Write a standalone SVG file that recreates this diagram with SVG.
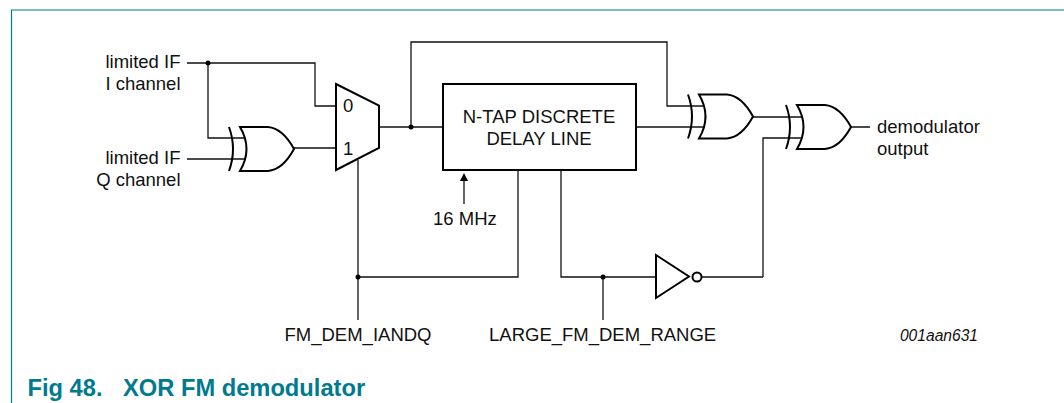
<svg xmlns="http://www.w3.org/2000/svg" width="1064" height="403" viewBox="0 0 1064 403">
<style>
text{font-family:"Liberation Sans",Arial,sans-serif;font-size:18.5px;fill:#111}
.w{fill:none;stroke:#111;stroke-width:1.3}
.g{fill:#fff;stroke:#000;stroke-width:2;stroke-linejoin:miter}
.a{fill:none;stroke:#000;stroke-width:2}
.d{fill:#000}
.t{font-weight:bold;font-size:23.7px;fill:#007a8e}
</style>
<defs>
<g id="xor">
<path class="a" d="M-11 0Q-3 22 -11 44"/>
<path class="g" d="M0 0H28C39 1 48 11 54 22C48 33 39 43 28 44H0Q13 22 0 0Z"/>
</g>
</defs>
<rect width="1064" height="403" fill="#fff"/>
<path id="frame" d="M11.500 403V10H1064" fill="none" stroke="#007a8e" stroke-width="1.200"/>
<g id="connectors">
<path class="w" d="M187 63H315V106H336M208 63V138H245M187 159H245M294 148H336M379 127H443M411 127V42H667V106H703M636 127H703M753 117H802M763 277V138H802M851 127H870M358 160V320M358 277H518V170M561 170V277H656M603 277V320M702 277H763"/>
<circle class="d" cx="208" cy="63" r="2.500"/>
<circle class="d" cx="411" cy="127" r="2.500"/>
<circle class="d" cx="358" cy="277" r="2.500"/>
<circle class="d" cx="603" cy="277" r="2.500"/>
<path class="w" d="M464 204V178"/>
<path class="d" d="M464 173L468 181H460Z"/>
</g>
<g id="xor1"><use href="#xor" x="240" y="127"/></g>
<g id="mux"><path class="g" d="M336 84L379 105.500V148L336 170Z"/><text x="343" y="112">0</text><text x="343" y="155">1</text></g>
<g id="delay"><rect class="a" x="443" y="84" width="193" height="86"/><text x="539" y="122.500" text-anchor="middle">N-TAP DISCRETE</text><text x="539" y="145" text-anchor="middle">DELAY LINE</text></g>
<g id="xor2"><use href="#xor" x="699" y="94.500"/></g>
<g id="xor3"><use href="#xor" x="797" y="105"/></g>
<g id="inv"><path class="g" d="M656 255L689 276.500L656 298Z"/><circle class="g" cx="697" cy="277" r="4.500"/></g>
<g id="labels">
<text x="180.500" y="67.500" text-anchor="end">limited IF</text>
<text x="180.500" y="90" text-anchor="end">I channel</text>
<text x="180.500" y="163.500" text-anchor="end">limited IF</text>
<text x="180.500" y="185.500" text-anchor="end">Q channel</text>
<text x="433" y="225">16 MHz</text>
<text x="877" y="133">demodulator</text>
<text x="877" y="155">output</text>
<text x="284.500" y="341">FM_DEM_IANDQ</text>
<text x="489" y="341">LARGE_FM_DEM_RANGE</text>
<text x="978" y="341" text-anchor="end" style="font-style:italic;font-size:15.6px">001aan631</text>
<text class="t" x="27.500" y="396">Fig 48.</text>
<text class="t" x="123" y="396">XOR FM demodulator</text>
</g>
</svg>
